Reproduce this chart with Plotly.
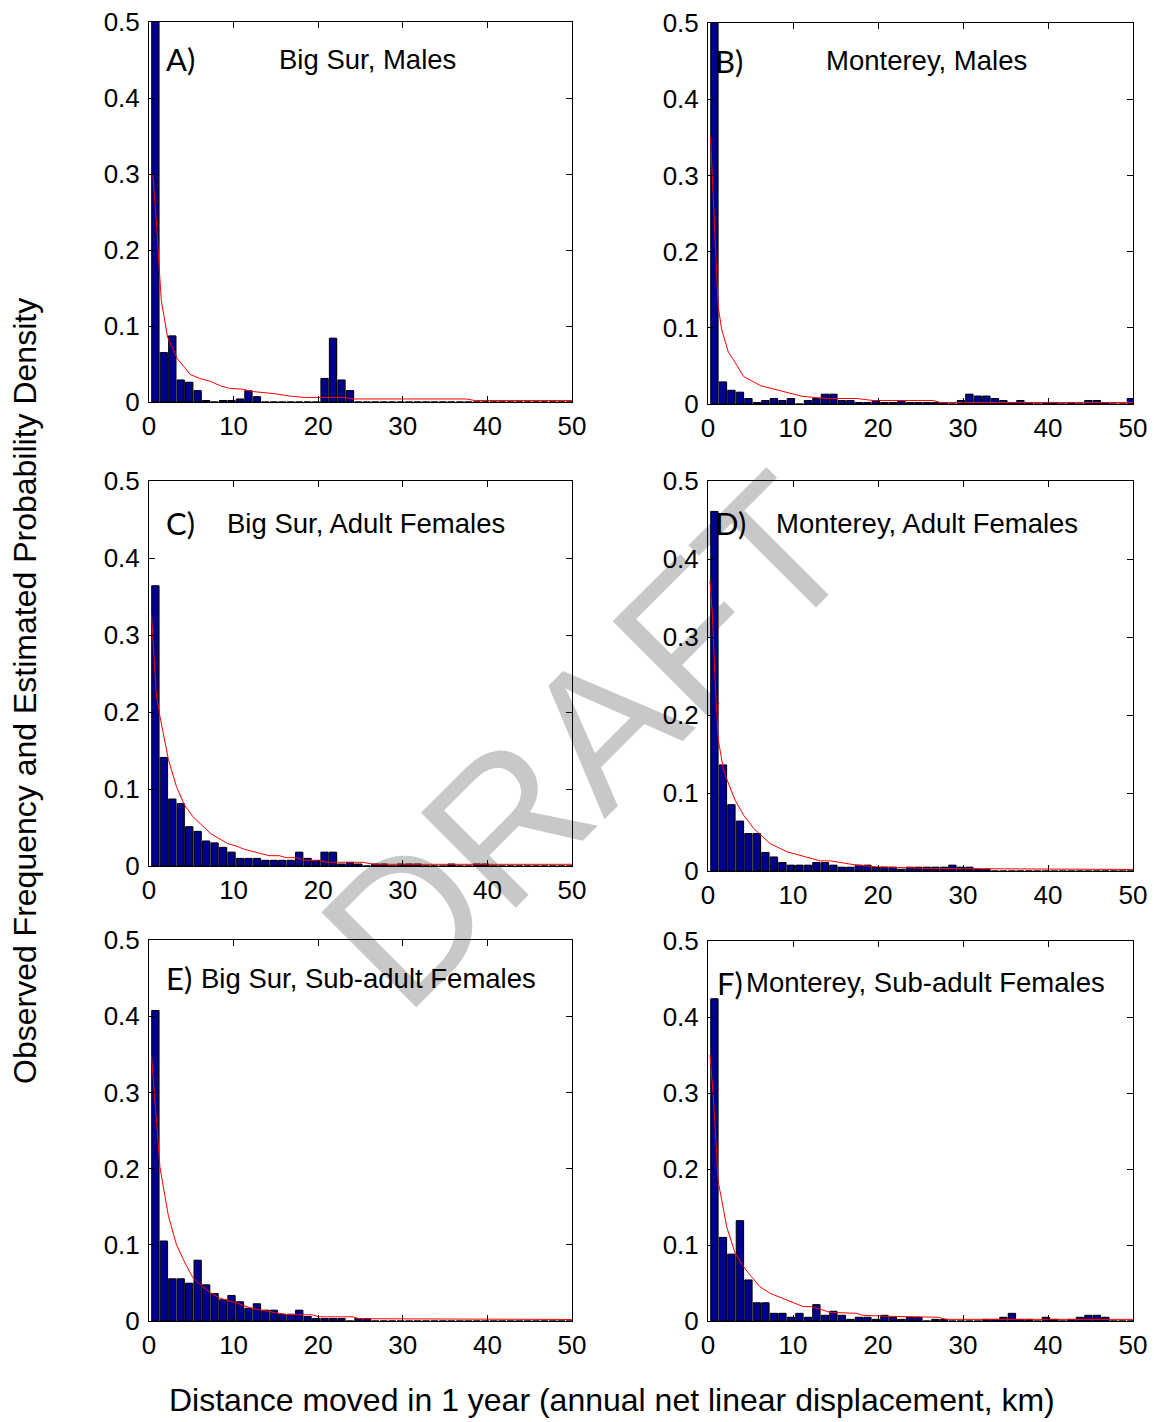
import plotly.graph_objects as go

W, H = 1154, 1422

# 1-km distance bins (km)
bins = list(range(1, 51))

# ---- Observed frequencies (histogram bars), one value per 1-km bin ----
bigsur_males = [0.55, 0.065, 0.087, 0.029, 0.026, 0.015, 0.002, 0, 0.002, 0.002,
                0.004, 0.015, 0.007, 0, 0, 0, 0, 0, 0, 0,
                0.031, 0.084, 0.029, 0.015, 0, 0, 0, 0, 0, 0,
                0, 0, 0, 0, 0, 0, 0, 0, 0, 0,
                0, 0, 0, 0, 0, 0, 0, 0, 0, 0]
monterey_males = [0.6, 0.029, 0.018, 0.0155, 0.0072, 0.002, 0.0046, 0.0072, 0.0046, 0.0072,
                  0, 0.0046, 0.0072, 0.0129, 0.0129, 0.0046, 0.0046, 0.002, 0.002, 0.0046,
                  0.002, 0.002, 0.0046, 0.002, 0.002, 0.002, 0.002, 0.002, 0, 0.0046,
                  0.0129, 0.0105, 0.0105, 0.0072, 0.0046, 0.002, 0.0046, 0.002, 0, 0.002,
                  0.002, 0, 0.002, 0, 0.0046, 0.0046, 0.002, 0, 0, 0.0072]
bigsur_adult_f = [0.364, 0.141, 0.087, 0.081, 0.051, 0.045, 0.0325, 0.030, 0.0242, 0.018,
                  0.0099, 0.0099, 0.0099, 0.0074, 0.0074, 0.0074, 0.0074, 0.018, 0.0099, 0.0074,
                  0.018, 0.018, 0.0026, 0.0048, 0.0026, 0, 0.0026, 0.0026, 0, 0.0026,
                  0.0026, 0.0026, 0, 0, 0, 0.0026, 0, 0, 0.0026, 0.0026,
                  0, 0, 0, 0, 0, 0, 0, 0, 0, 0]
monterey_adult_f = [0.461, 0.136, 0.085, 0.064, 0.048, 0.048, 0.0237, 0.018, 0.0109, 0.0075,
                    0.0075, 0.0075, 0.0109, 0.0109, 0.0075, 0.0049, 0.0049, 0.0075, 0.0075, 0.0049,
                    0.0049, 0.0049, 0.0023, 0.0049, 0.0049, 0.0049, 0.0049, 0.0049, 0.0075, 0.0049,
                    0.0049, 0.0023, 0.0023, 0, 0, 0, 0, 0, 0, 0,
                    0, 0, 0, 0, 0, 0, 0, 0, 0, 0]
bigsur_subadult_f = [0.4075, 0.105, 0.0554, 0.0554, 0.0496, 0.0798, 0.0475, 0.036, 0.0278, 0.0335,
                     0.0252, 0.0168, 0.0226, 0.0142, 0.0142, 0.0089, 0.0089, 0.0142, 0.0059, 0.0033,
                     0.0033, 0.0033, 0.0033, 0, 0.0033, 0.0033, 0, 0, 0, 0,
                     0, 0, 0, 0, 0, 0, 0, 0, 0, 0,
                     0, 0, 0, 0, 0, 0, 0, 0, 0, 0]
monterey_subadult_f = [0.424, 0.110, 0.088, 0.132, 0.054, 0.024, 0.024, 0.0101, 0.0101, 0.0049,
                       0.0101, 0.0049, 0.0215, 0.0075, 0.0128, 0.0075, 0.0022, 0.0049, 0.0049, 0.0022,
                       0.0075, 0.0049, 0.0022, 0.0049, 0.0049, 0, 0.0022, 0.0022, 0, 0,
                       0, 0, 0.0022, 0.0022, 0.0049, 0.0101, 0.0022, 0.0022, 0, 0.0049,
                       0.0022, 0, 0.0022, 0.0049, 0.0075, 0.0075, 0.0049, 0, 0, 0]

# ---- Estimated probability density curves (red) ----
bigsur_males_kx = [0.45, 0.85, 1.45, 2.2, 3.35, 4.9, 6.0, 7.3, 8.5, 9.5, 10.9, 12.4, 14.8, 16.5, 18.4, 23.0, 24.2, 37.5, 38.5, 50]
bigsur_males_ky = [0.30, 0.24, 0.134, 0.085, 0.057, 0.036, 0.031, 0.027, 0.021, 0.018, 0.017, 0.0136, 0.011, 0.008, 0.006, 0.006, 0.004, 0.004, 0.002, 0.002]

monterey_males_kx = [0.3, 0.74, 1.0, 1.2, 1.6, 2.4, 3.0, 4.2, 6.2, 8.9, 11.0, 12.5, 14.35, 17.5, 19.4, 26.5, 27.3, 50]
monterey_males_ky = [0.35, 0.242, 0.198, 0.128, 0.098, 0.068, 0.058, 0.036, 0.024, 0.0168, 0.0103, 0.0085, 0.0072, 0.0072, 0.0046, 0.0046, 0.002, 0.002]

bigsur_adult_f_kx = [0.3, 0.55, 0.85, 1.3, 2.3, 3.25, 4.2, 5.2, 6.25, 7.3, 9.3, 10.3, 11.3, 13.2, 14.2, 15.4, 16.2, 17.4, 18.2, 20.1, 21.1, 25.3, 26.5, 50]
bigsur_adult_f_ky = [0.326, 0.28, 0.224, 0.194, 0.138, 0.103, 0.079, 0.064, 0.053, 0.042, 0.029, 0.026, 0.0216, 0.0165, 0.0134, 0.0134, 0.0108, 0.0108, 0.0078, 0.0069, 0.0048, 0.0048, 0.0022, 0.0022]

monterey_adult_f_kx = [0.24, 0.55, 0.85, 1.2, 1.8, 2.2, 3.2, 4.2, 5.4, 7.3, 9.3, 11.2, 13.2, 14.4, 16.3, 17.5, 19.8, 26.5, 50]
monterey_adult_f_ky = [0.372, 0.323, 0.24, 0.169, 0.131, 0.118, 0.0906, 0.0714, 0.0543, 0.0352, 0.0246, 0.0194, 0.013, 0.013, 0.0096, 0.0075, 0.0054, 0.0032, 0.002]

bigsur_subadult_f_kx = [0.3, 0.8, 1.3, 2.3, 3.25, 4.24, 5.2, 6.25, 7.3, 8.3, 10.3, 12.2, 14.2, 16.2, 19.3, 20.1, 24.1, 24.8, 50]
bigsur_subadult_f_ky = [0.348, 0.277, 0.201, 0.1376, 0.100, 0.0764, 0.0567, 0.0457, 0.037, 0.0304, 0.0239, 0.0164, 0.0129, 0.0085, 0.0081, 0.0055, 0.0055, 0.003, 0.002]

monterey_subadult_f_kx = [0.24, 0.62, 1.2, 2.2, 3.2, 4.16, 5.1, 6.1, 7.3, 9.3, 10.2, 11.2, 12.2, 14.35, 17.5, 18.2, 21, 27.1, 28, 50]
monterey_subadult_f_ky = [0.350, 0.296, 0.1836, 0.124, 0.089, 0.0716, 0.0584, 0.0452, 0.0365, 0.0277, 0.0233, 0.0189, 0.0189, 0.0114, 0.0101, 0.0075, 0.0062, 0.0049, 0.0022, 0.0022]

panel_letters = ["A)", "B)", "C)", "D)", "E)", "F)"]
panel_titles = ["Big Sur, Males", "Monterey, Males",
                "Big Sur, Adult Females", "Monterey, Adult Females",
                "Big Sur, Sub-adult Females", "Monterey, Sub-adult Females"]
x_ticks = [0, 10, 20, 30, 40, 50]
y_ticks = [0, 0.1, 0.2, 0.3, 0.4, 0.5]
y_ticktext = ["0", "0.1", "0.2", "0.3", "0.4", "0.5"]

bars = [bigsur_males, monterey_males, bigsur_adult_f, monterey_adult_f, bigsur_subadult_f, monterey_subadult_f]
curves = [(bigsur_males_kx, bigsur_males_ky), (monterey_males_kx, monterey_males_ky),
          (bigsur_adult_f_kx, bigsur_adult_f_ky), (monterey_adult_f_kx, monterey_adult_f_ky),
          (bigsur_subadult_f_kx, bigsur_subadult_f_ky), (monterey_subadult_f_kx, monterey_subadult_f_ky)]

# ---- layout geometry (pixels) ----
boxes = [  # x0, x1, ytop, ybottom
    (149, 572, 22, 402),
    (708, 1133, 23, 404),
    (149, 572, 481, 866),
    (708, 1133, 481, 871),
    (149, 572, 940, 1321),
    (708, 1133, 941, 1321),
]
letter_pos = [(164, 59), (713, 61), (164, 523), (713, 523), (164, 978), (715, 983)]
title_pos = [(277, 59), (824, 61), (225, 523), (774, 523), (199, 978), (744, 983)]

FONT = "Liberation Sans, Arial, sans-serif"
NAVY = "#000090"

fig = go.Figure()
layout = dict(
    width=W, height=H, autosize=False,
    margin=dict(l=0, r=0, t=0, b=0, pad=0, autoexpand=False),
    paper_bgcolor="white", plot_bgcolor="rgba(0,0,0,0)",
    showlegend=False, barmode="overlay",
    font=dict(family=FONT, size=26, color="black"),
)
annotations = []

for i in range(6):
    n = i + 1
    xa = "x" if n == 1 else f"x{n}"
    ya = "y" if n == 1 else f"y{n}"
    x0, x1, yt, yb = boxes[i]
    centers = [b - 0.25 for b in bins]
    # gray "shadow" of each bar
    fig.add_trace(go.Bar(x=centers, y=bars[i], width=0.85, offset=-0.33,
                         marker=dict(color="#9a9a9a", line=dict(width=0)),
                         xaxis=xa, yaxis=ya, hoverinfo="skip"))
    fig.add_trace(go.Bar(x=centers, y=bars[i], width=0.85, offset=-0.43,
                         marker=dict(color=NAVY, line=dict(color="black", width=1)),
                         xaxis=xa, yaxis=ya))
    kx, ky = curves[i]
    fig.add_trace(go.Scatter(x=kx, y=ky, mode="lines",
                             line=dict(color="red", width=1),
                             xaxis=xa, yaxis=ya))
    axcommon = dict(showgrid=False, zeroline=False, showline=True, linecolor="black",
                    linewidth=1, mirror="ticks", ticks="inside", ticklen=6,
                    tickcolor="black", tickwidth=1, automargin=False,
                    tickfont=dict(family=FONT, size=26, color="black"))
    layout["xaxis" if n == 1 else f"xaxis{n}"] = dict(
        domain=[x0 / W, x1 / W], range=[0, 50], anchor=ya,
        tickvals=x_ticks, ticklabelstandoff=1, **axcommon)
    layout["yaxis" if n == 1 else f"yaxis{n}"] = dict(
        domain=[1 - yb / H, 1 - yt / H], range=[0, 0.5], anchor=xa,
        tickvals=y_ticks, ticktext=y_ticktext, ticklabelstandoff=3, **axcommon)
    lx, ly = letter_pos[i]
    annotations.append(dict(text=panel_letters[i], xref="paper", yref="paper",
                            x=lx / W, y=1 - ly / H, xanchor="left", yanchor="middle",
                            showarrow=False,
                            font=dict(family="Lato, Carlito, sans-serif", size=31, color="black")))
    tx, ty = title_pos[i]
    annotations.append(dict(text=panel_titles[i], xref="paper", yref="paper",
                            x=tx / W, y=1 - ty / H, xanchor="left", yanchor="middle",
                            showarrow=False,
                            font=dict(family=FONT, size=27.5, color="black")))

annotations.append(dict(text="Distance moved in 1 year (annual net linear displacement, km)",
                        xref="paper", yref="paper", x=612 / W, y=1 - 1400 / H,
                        xanchor="center", yanchor="middle", showarrow=False,
                        font=dict(family=FONT, size=32, color="black")))
annotations.append(dict(text="Observed Frequency and Estimated Probability Density",
                        xref="paper", yref="paper", x=25 / W, y=1 - 691 / H,
                        xanchor="center", yanchor="middle", showarrow=False, textangle=-90,
                        font=dict(family=FONT, size=32, color="black")))
layout["annotations"] = annotations

# DRAFT watermark drawn beneath the data
cx, cy = 574, 728
layout["shapes"] = [dict(
    type="rect", xref="paper", yref="paper",
    x0=(cx - 60) / W, x1=(cx + 60) / W, y0=1 - (cy + 60) / H, y1=1 - (cy - 60) / H,
    line=dict(width=0), fillcolor="rgba(0,0,0,0)", layer="below",
    label=dict(text="DRAFT", textangle=-45, textposition="middle center",
               font=dict(family=FONT, size=195, color="#c8c8c8")),
)]

fig.update_layout(**layout)
fig.write_html("out.html")
